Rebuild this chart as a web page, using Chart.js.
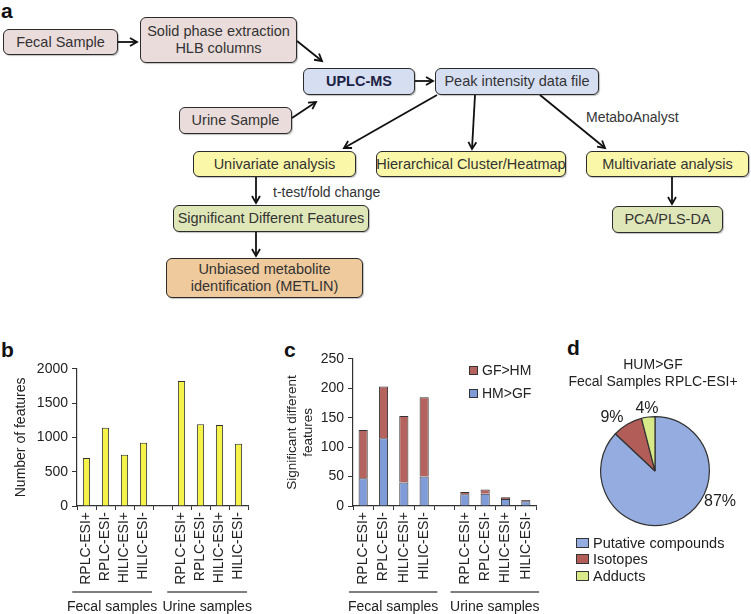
<!DOCTYPE html>
<html><head><meta charset="utf-8">
<script src="https://cdn.jsdelivr.net/npm/chart.js@4.4.0/dist/chart.umd.min.js"></script>
<style>
body{margin:0;width:751px;height:614px;position:relative;background:#fff;font-family:"Liberation Sans",Arial,sans-serif;overflow:hidden;color:#222}
.box{position:absolute;box-sizing:border-box;border:1.7px solid #2b2b2b;border-radius:6px;display:flex;align-items:center;justify-content:center;text-align:center;font-size:14.5px;line-height:17px;color:#333;white-space:nowrap;padding:0;box-shadow:1px 1px 1px rgba(0,0,0,.25)}
.pink{background:#eadcda}.blue{background:#d6dff2}.yellow{background:#fbf7a8}.green{background:#dfe7b9}.tan{background:#efca9c}
.lbl{position:absolute;font-size:14px;color:#333;white-space:nowrap;line-height:16px}
.letter{position:absolute;font-weight:bold;font-size:21px;color:#111;line-height:21px}
canvas{position:absolute}
.leg{position:absolute;font-size:14px;line-height:16px;color:#222;white-space:nowrap}
.sw{display:inline-block;box-sizing:border-box;border:1px solid #333;vertical-align:middle}
.ctr{position:absolute;transform:translate(-50%,-50%);white-space:nowrap;color:#222}
</style></head>
<body>
<div class="letter" style="left:1px;top:0px">a</div>
<div class="letter" style="left:1px;top:339px">b</div>
<div class="letter" style="left:284px;top:339px">c</div>
<div class="letter" style="left:567px;top:337px">d</div>

<div class="box pink" style="left:3px;top:29px;width:115px;height:26px">Fecal Sample</div>
<div class="box pink" style="left:140px;top:17px;width:157px;height:46px">Solid phase extraction<br>HLB columns</div>
<div class="box blue" style="left:303px;top:68px;width:112px;height:27px;font-weight:bold;color:#1c2244">UPLC-MS</div>
<div class="box blue" style="left:435px;top:68px;width:164px;height:27px">Peak intensity data file</div>
<div class="box pink" style="left:179px;top:107px;width:113px;height:27px">Urine Sample</div>
<div class="box yellow" style="left:193px;top:151px;width:163px;height:26px">Univariate analysis</div>
<div class="box yellow" style="left:376px;top:151px;width:190px;height:26px">Hierarchical Cluster/Heatmap</div>
<div class="box yellow" style="left:586px;top:151px;width:163px;height:26px">Multivariate analysis</div>
<div class="box green" style="left:173px;top:205px;width:196px;height:27px">Significant Different Features</div>
<div class="box tan" style="left:166px;top:258px;width:197px;height:40px">Unbiased metabolite<br>identification (METLIN)</div>
<div class="box green" style="left:612px;top:206px;width:111px;height:27px">PCA/PLS-DA</div>
<div class="lbl" style="left:586px;top:109px">MetaboAnalyst</div>
<div class="lbl" style="left:273px;top:184px">t-test/fold change</div>

<svg width="751" height="614" style="position:absolute;left:0;top:0;pointer-events:none">
<defs><marker id="ah" markerWidth="12" markerHeight="12" refX="9" refY="5" orient="auto" markerUnits="userSpaceOnUse">
<path d="M2,1 L9,5 L2,9" fill="none" stroke="#111" stroke-width="1.8"/></marker></defs>
<g stroke="#111" stroke-width="1.8" fill="none" marker-end="url(#ah)">
<line x1="118" y1="42" x2="137" y2="42"/>
<line x1="297" y1="41" x2="322" y2="61"/>
<line x1="292" y1="118" x2="316" y2="102"/>
<line x1="415" y1="81" x2="433" y2="81"/>
<line x1="437" y1="95" x2="344" y2="148"/>
<line x1="475" y1="95" x2="472" y2="149"/>
<line x1="540" y1="95" x2="605" y2="148"/>
<line x1="256" y1="177" x2="256" y2="203"/>
<line x1="256" y1="232" x2="256" y2="256"/>
<line x1="672" y1="177" x2="672" y2="204"/>
</g></svg>

<canvas id="cb" width="262" height="274" style="left:0;top:340px"></canvas>
<canvas id="cc" width="290" height="274" style="left:262px;top:340px"></canvas>
<canvas id="cd" width="190" height="150" style="left:560px;top:396px"></canvas>
<div id="legc"></div>
<div id="dtext"></div>

<script>
// ---- data ----
const methods = ['RPLC-ESI+', 'RPLC-ESI-', 'HILIC-ESI+', 'HILIC-ESI-'];
const groups = ['Fecal samples', 'Urine samples'];
const fecalFeatures = [700, 1140, 745, 920];
const urineFeatures = [1820, 1190, 1180, 905];
const fecalHMgtGF = [47, 115, 40, 50];
const fecalGFgtHM = [82, 88, 113, 135];
const urineHMgtGF = [20, 21, 12, 8];
const urineGFgtHM = [4, 7, 3, 2];
const seriesC = ['HM>GF', 'GF>HM'];
const pieTitle = ['HUM>GF', 'Fecal Samples RPLC-ESI+'];
const pieLabels = ['Putative compounds', 'Isotopes', 'Adducts'];
const pieValues = [87, 9, 4];

// ---- styling ----
const FONT = '"Liberation Sans", Arial, sans-serif';
Chart.defaults.font.family = FONT;
Chart.defaults.color = '#222';
const yellow = '#f5f24a', cBlue = '#7f9bd8', cRed = '#b5635f';
const pieColors = ['#94acdf', '#b35d58', '#d8e98a'];

const labels = [...methods, '', ...methods];
const grpDefs = [{label: groups[0], from: 0, to: 3}, {label: groups[1], from: 5, to: 8}];

const groupBrackets = {
  id: 'groupBrackets',
  afterDraw(chart, args, opts) {
    const x = chart.scales.x, ctx = chart.ctx;
    const cw = x.getPixelForValue(1) - x.getPixelForValue(0);
    grpDefs.forEach(g => {
      const x0 = x.getPixelForValue(g.from) - opts.pre * cw;
      const x1 = x.getPixelForValue(g.to) + opts.post * cw;
      ctx.save();
      ctx.strokeStyle = '#555'; ctx.lineWidth = 1.5;
      ctx.beginPath(); ctx.moveTo(x0, opts.lineY); ctx.lineTo(x1, opts.lineY); ctx.stroke();
      ctx.fillStyle = '#222'; ctx.font = '14px ' + FONT;
      ctx.textAlign = 'center'; ctx.textBaseline = 'middle';
      ctx.fillText(g.label, (x0 + x1) / 2, opts.textY);
      ctx.restore();
    });
  }
};

function xScale(h) {
  return {
    grid: {display: true, drawOnChartArea: false, offset: true, tickLength: 4, tickColor: '#333', color: '#333'},
    border: {color: '#333', width: 1.2},
    ticks: {minRotation: 90, maxRotation: 90, autoSkip: false, padding: 2, color: '#222', font: {size: 14}},
    afterFit(s) { s.height = h; }
  };
}
const plain = v => String(v);

new Chart(document.getElementById('cb'), {
  type: 'bar',
  data: {labels, datasets: [{data: [...fecalFeatures, null, ...urineFeatures], backgroundColor: yellow,
    borderColor: '#333', borderWidth: 1, barPercentage: 0.38, categoryPercentage: 1}]},
  plugins: [groupBrackets],
  options: {
    animation: false, responsive: false, devicePixelRatio: 1,
    layout: {padding: {top: 28.7, right: 14, left: 0, bottom: 0}},
    plugins: {legend: {display: false}, tooltip: {enabled: false},
      groupBrackets: {pre: 0.75, post: 0.45, lineY: 252, textY: 267}},
    scales: {
      x: xScale(108),
      y: {min: 0, max: 2000, ticks: {stepSize: 500, padding: 4, color: '#222', font: {size: 14}, callback: plain},
        grid: {drawOnChartArea: false, tickLength: 5, tickColor: '#333'},
        border: {color: '#333', width: 1.2},
        title: {display: true, text: 'Number of features', color: '#222', font: {size: 14}, padding: {top: 13, bottom: 0}},
        afterFit(s) { s.width = 77; }}
    }
  }
});

new Chart(document.getElementById('cc'), {
  type: 'bar',
  data: {labels, datasets: [
    {label: seriesC[0], data: [...fecalHMgtGF, null, ...urineHMgtGF], backgroundColor: cBlue, borderColor: '#333', borderWidth: 1, barPercentage: 0.45, categoryPercentage: 1},
    {label: seriesC[1], data: [...fecalGFgtHM, null, ...urineGFgtHM], backgroundColor: cRed, borderColor: '#333', borderWidth: 1, barPercentage: 0.45, categoryPercentage: 1}
  ]},
  plugins: [groupBrackets],
  options: {
    animation: false, responsive: false, devicePixelRatio: 1,
    layout: {padding: {top: 18.9, right: 16, left: 0, bottom: 0}},
    plugins: {legend: {display: false}, tooltip: {enabled: false},
      groupBrackets: {pre: 0.7, post: 0.65, lineY: 252, textY: 267}},
    scales: {
      x: Object.assign(xScale(108), {stacked: true}),
      y: {stacked: true, min: 0, max: 250, ticks: {stepSize: 50, padding: 4, color: '#222', font: {size: 14}, callback: plain},
        grid: {drawOnChartArea: false, tickLength: 5, tickColor: '#333'},
        border: {color: '#333', width: 1.2},
        title: {display: true, text: ['Significant different', 'features'], color: '#222', font: {size: 13.5}, padding: {top: 21.9, bottom: 0}},
        afterFit(s) { s.width = 91; }}
    }
  }
});

new Chart(document.getElementById('cd'), {
  type: 'pie',
  data: {labels: pieLabels, datasets: [{data: pieValues, backgroundColor: pieColors, borderColor: '#333', borderWidth: 1.2}]},
  options: {
    animation: false, responsive: false, devicePixelRatio: 1,
    layout: {padding: {left: 40, right: 40, top: 20, bottom: 20}},
    plugins: {legend: {display: false}, tooltip: {enabled: false}}
  }
});

// legend for c (GF>HM listed first)
const legc = document.getElementById('legc');
[[seriesC[1], cRed, 370], [seriesC[0], cBlue, 393]].forEach(([t, c, y]) => {
  const d = document.createElement('div');
  d.className = 'leg';
  d.style.left = '469px'; d.style.top = (y - 8) + 'px';
  d.innerHTML = '<span class="sw" style="width:9px;height:9px;background:' + c + ';margin-right:4px;margin-top:-2px"></span>';
  d.appendChild(document.createTextNode(t));
  legc.appendChild(d);
});

// panel d texts
const dt = document.getElementById('dtext');
function addCtr(text, x, y, size) {
  const e = document.createElement('div');
  e.className = 'ctr'; e.style.left = x + 'px'; e.style.top = y + 'px'; e.style.fontSize = size + 'px';
  e.textContent = text; dt.appendChild(e);
}
addCtr(pieTitle[0], 653, 364, 14);
addCtr(pieTitle[1], 653, 381, 14);
const tot = pieValues.reduce((a, b) => a + b, 0);
const pct = pieValues.map(v => Math.round(v / tot * 100) + '%');
addCtr(pct[0], 720, 501, 16);
addCtr(pct[1], 612, 417, 16);
addCtr(pct[2], 647, 408, 16);
pieLabels.forEach((t, i) => {
  const d = document.createElement('div');
  d.className = 'leg';
  d.style.left = '576px'; d.style.top = (535 + i * 16.3) + 'px'; d.style.fontSize = '14.5px';
  d.innerHTML = '<span class="sw" style="width:13px;height:10px;background:' + pieColors[i] + ';margin-right:4px;margin-top:-2px"></span>';
  d.appendChild(document.createTextNode(t));
  dt.appendChild(d);
});
</script>
</body></html>
